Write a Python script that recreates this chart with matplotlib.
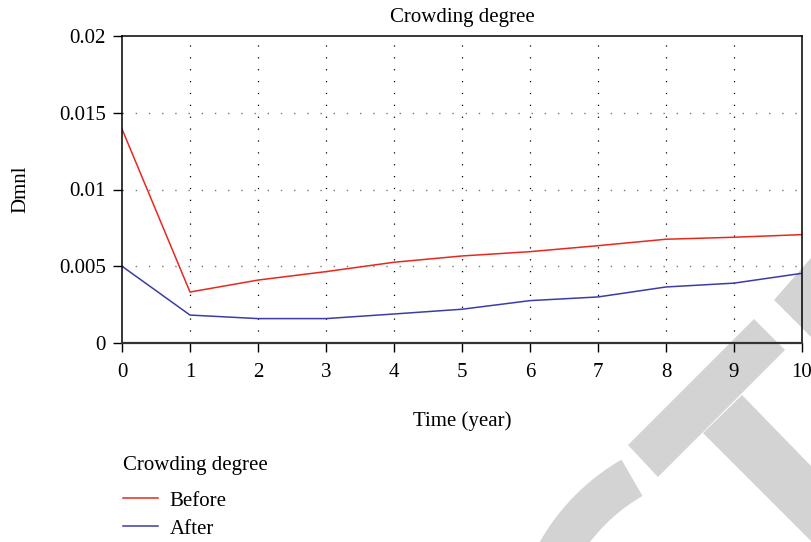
import numpy as np
import matplotlib
matplotlib.use("Agg")
import matplotlib.pyplot as plt
from matplotlib.patches import Polygon, Wedge
from matplotlib.transforms import IdentityTransform

plt.rcParams['font.family'] = ['Liberation Serif', 'DejaVu Serif']
plt.rcParams['font.size'] = 15

years = list(range(11))
before = [0.01394, 0.00332, 0.0041, 0.00465, 0.00526, 0.00567, 0.00595,
          0.00634, 0.00676, 0.00689, 0.00706]
after = [0.0050, 0.00182, 0.00159, 0.00159, 0.00189, 0.0022, 0.00276,
         0.0030, 0.00365, 0.0039, 0.00454]
y_ticks = [0, 0.005, 0.01, 0.015, 0.02]
y_labels = ["0", "0.005", "0.01", "0.015", "0.02"]

fig = plt.figure(figsize=(8.11, 5.42), dpi=100)
ax = fig.add_axes([122/811, 1-343/542, 680/811, 307/542])
ax.set_facecolor('none')

# grey watermark shapes in the lower right (figure pixels, y up)
H = 542
grey = '#d3d3d3'
def px(pts):
    return [(x, H - y) for x, y in pts]
shapes = [
    Polygon(px([(774, 300), (811, 258), (811, 337)]), closed=True),
    Polygon(px([(754, 319), (785, 350), (658, 477), (628, 445)]), closed=True),
    Polygon(px([(703, 433), (742, 395), (811, 466), (811, 542), (812, 542)]), closed=True),
    Wedge((732, H - 651), 221, 120, 215, width=42),
]
for s in shapes:
    s.set_transform(IdentityTransform())
    s.set_facecolor(grey)
    s.set_edgecolor('none')
    s.set_zorder(-5)
    fig.patches.append(s)

ax.plot(years, before, color='#e8281e', lw=1.1, label='Before')
ax.plot(years, after, color='#3c3ca8', lw=1.1, label='After')

ax.set_xlim(0, 10)
ax.set_ylim(0, 0.02)
ax.set_xticks(years)
ax.set_yticks(y_ticks)
ax.set_yticklabels(y_labels)
ax.tick_params(axis='both', direction='out', length=6.5, width=1, colors='black', labelsize=15)
ax.tick_params(axis='x', pad=8)
ax.tick_params(axis='y', pad=5)

for x in years[1:-1]:
    ax.axvline(x, color='black', lw=0.9, ls=(0, (1, 8.5)), zorder=0)
for y in y_ticks[1:-1]:
    ax.axhline(y, color='#777777', lw=1.0, ls=(0, (1, 8.5)), zorder=0)

for sp in ['left', 'right', 'top']:
    ax.spines[sp].set_color('black')
    ax.spines[sp].set_linewidth(1.1)
ax.spines['bottom'].set_color('#333333')
ax.spines['bottom'].set_linewidth(1.6)

ax.set_title('Crowding degree', fontsize=15, pad=10)
ax.set_xlabel('Time (year)', fontsize=15)
ax.xaxis.set_label_coords(0.5, -0.221)
ax.set_ylabel('Dmnl', fontsize=15)
ax.yaxis.set_label_coords(-0.1345, 0.5)

fig.text(123/811, 1-456/542, 'Crowding degree', fontsize=15, ha='left', va='top')
leg = fig.legend(loc='upper left', bbox_to_anchor=(123/811, 1-491/542),
                 frameon=False, fontsize=15, handlelength=1.7, handletextpad=0.55,
                 labelspacing=0.4, borderpad=0, borderaxespad=0)

fig.savefig('out.png', dpi=100)
